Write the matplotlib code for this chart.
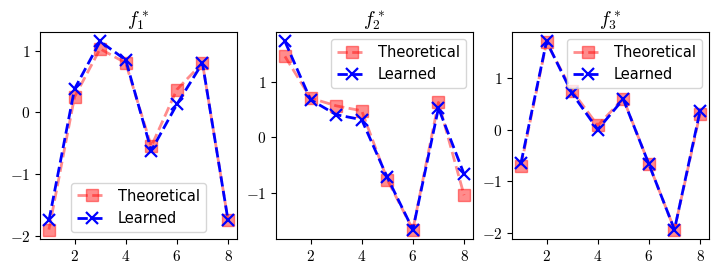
import matplotlib
matplotlib.use("Agg")
import matplotlib.pyplot as plt
from matplotlib.ticker import FuncFormatter, MultipleLocator

plt.rcParams["mathtext.fontset"] = "cm"
plt.rcParams["font.family"] = "DejaVu Sans"

x = [1, 2, 3, 4, 5, 6, 7, 8]

theo_1 = [-1.90, 0.25, 1.03, 0.80, -0.55, 0.37, 0.80, -1.75]
learn_1 = [-1.75, 0.38, 1.15, 0.85, -0.62, 0.13, 0.80, -1.75]

theo_2 = [1.46, 0.71, 0.57, 0.48, -0.76, -1.66, 0.63, -1.04]
learn_2 = [1.73, 0.68, 0.41, 0.32, -0.72, -1.66, 0.53, -0.66]

theo_3 = [-0.70, 1.69, 0.75, 0.08, 0.60, -0.67, -1.94, 0.31]
learn_3 = [-0.65, 1.71, 0.70, 0.00, 0.59, -0.67, -1.94, 0.36]

titles = [r"$f_1^*$", r"$f_2^*$", r"$f_3^*$"]
legend_locs = ["lower center", "upper right", "upper right"]

fig = plt.figure(figsize=(7.2, 2.74), dpi=100)
lefts = [40, 276, 512]
width = 197
top, bottom = 32, 239
H, W = 274, 720

fmt = FuncFormatter(lambda v, pos: r"$%g$" % v if v >= 0 else r"$-%g$" % -v)

series = [(theo_1, learn_1), (theo_2, learn_2), (theo_3, learn_3)]
for i, (theo, learn) in enumerate(series):
    ax = fig.add_axes([lefts[i] / W, 1 - bottom / H, width / W, (bottom - top) / H])
    ax.plot(x, theo, "s--", color="red", alpha=0.45, markersize=8, lw=2,
            label="Theoretical")
    ax.plot(x, learn, "x--", color="blue", markersize=8, mew=1.6, lw=2,
            label="Learned")
    ax.set_title(titles[i], fontsize=14, pad=3)
    ax.set_xticks([2, 4, 6, 8])
    ax.yaxis.set_major_locator(MultipleLocator(1))
    ax.xaxis.set_major_formatter(fmt)
    ax.yaxis.set_major_formatter(fmt)
    ax.tick_params(labelsize=11)
    ax.legend(loc=legend_locs[i], fontsize=10.5)

fig.savefig("out.png", dpi=100)
